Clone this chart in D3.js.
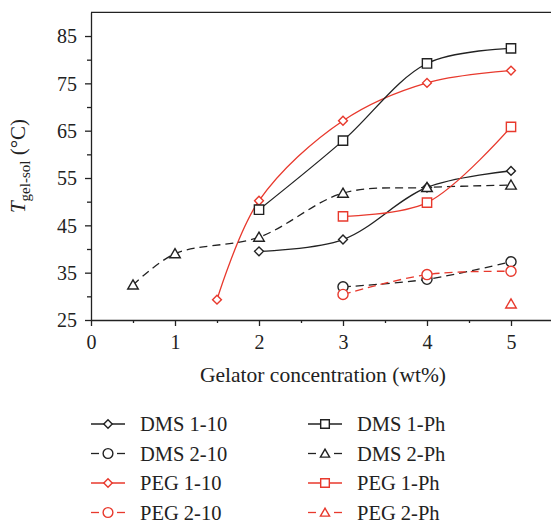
<!DOCTYPE html>
<html>
<head>
<meta charset="utf-8">
<script src="https://cdn.jsdelivr.net/npm/d3@7"></script>
<style>
  body { margin: 0; background: #fff; }
  svg { display: block; }
  svg text { font-family: "Liberation Serif", "Times New Roman", serif; }
  .tick text { font-size: 20px; fill: #222; }
</style>
</head>
<body>
<div id="chart"></div>
<script>
(function () {
  "use strict";

  // x values (wt%) and T gel-sol (°C) per series
  var dms110X = [2, 3, 4, 5],           dms110Y = [39.5, 42, 53, 56.5];
  var dms210X = [3, 4, 5],              dms210Y = [32, 33.6, 37.3];
  var peg110X = [1.5, 2, 3, 4, 5],      peg110Y = [29.3, 50.2, 67.1, 75.1, 77.7];
  var peg210X = [3, 4, 5],              peg210Y = [30.4, 34.6, 35.3];
  var dms1phX = [2, 3, 4, 5],           dms1phY = [48.3, 62.9, 79.2, 82.4];
  var dms2phX = [0.5, 1, 2, 3, 4, 5],   dms2phY = [32.4, 39, 42.5, 51.8, 53, 53.5];
  var peg1phX = [3, 4, 5],              peg1phY = [46.9, 49.8, 65.8];
  var peg2phX = [5],                    peg2phY = [28.4];

  var xTicks = [0, 1, 2, 3, 4, 5],
      xMinor = [0.5, 1.5, 2.5, 3.5, 4.5],
      yTicks = [25, 35, 45, 55, 65, 75, 85],
      yMinor = [30, 40, 50, 60, 70, 80];

  var black = "#222",
      red = "#e8392d";

  var series = [
    {name: "DMS 1-10", xs: dms110X, ys: dms110Y, color: black, dash: null, sym: "diamond"},
    {name: "DMS 2-10", xs: dms210X, ys: dms210Y, color: black, dash: "8,5", sym: "circle"},
    {name: "PEG 1-10", xs: peg110X, ys: peg110Y, color: red, dash: null, sym: "diamond"},
    {name: "PEG 2-10", xs: peg210X, ys: peg210Y, color: red, dash: "8,5", sym: "circle"},
    {name: "DMS 1-Ph", xs: dms1phX, ys: dms1phY, color: black, dash: null, sym: "square"},
    {name: "DMS 2-Ph", xs: dms2phX, ys: dms2phY, color: black, dash: "8,5", sym: "triangle"},
    {name: "PEG 1-Ph", xs: peg1phX, ys: peg1phY, color: red, dash: null, sym: "square"},
    {name: "PEG 2-Ph", xs: peg2phX, ys: peg2phY, color: red, dash: "8,5", sym: "triangle"}
  ];

  var width = 551, height = 522;
  var left = 91, bottom = 320;

  var svg = d3.select("#chart").append("svg")
    .attr("width", width)
    .attr("height", height);

  var x = d3.scaleLinear().domain([0, 5.5]).range([left, left + 462]);
  var y = d3.scaleLinear().domain([25, 90]).range([bottom, bottom - 65 * 4.733]);

  // symbols (white filled so lines stop at the edge)
  var symbols = {
    diamond: d3.symbol().type(d3.symbolDiamond2).size(50),
    circle: d3.symbol().type(d3.symbolCircle).size(80),
    square: d3.symbol().type(d3.symbolSquare2).size(110),
    triangle: d3.symbol().type(d3.symbolTriangle2).size(80)
  };

  // axes
  var xAxis = svg.append("g")
    .attr("transform", "translate(0," + bottom + ")")
    .call(d3.axisBottom(x).tickValues(xTicks).tickFormat(d3.format("d"))
      .tickSize(6).tickPadding(9).tickSizeOuter(0));
  svg.append("g")
    .attr("transform", "translate(0," + bottom + ")")
    .call(d3.axisBottom(x).tickValues(xMinor).tickFormat("").tickSize(3).tickSizeOuter(0))
    .select(".domain").remove();

  var yAxis = svg.append("g")
    .attr("transform", "translate(" + left + ",0)")
    .call(d3.axisLeft(y).tickValues(yTicks).tickSize(6).tickPadding(8).tickSizeOuter(0));
  svg.append("g")
    .attr("transform", "translate(" + left + ",0)")
    .call(d3.axisLeft(y).tickValues(yMinor).tickFormat("").tickSize(4).tickSizeOuter(0))
    .select(".domain").remove();

  svg.selectAll(".domain, .tick line").attr("stroke", black).attr("stroke-width", 1.3);
  yAxis.selectAll("text").attr("dy", "0.34em");

  // top frame line
  svg.append("line")
    .attr("x1", left).attr("x2", width)
    .attr("y1", y(90)).attr("y2", y(90))
    .attr("stroke", black).attr("stroke-width", 1.3);

  // axis titles
  svg.append("text")
    .attr("x", 323).attr("y", 382)
    .attr("text-anchor", "middle")
    .attr("font-size", 21.5).attr("fill", black)
    .text("Gelator concentration (wt%)");

  var yl = svg.append("text")
    .attr("transform", "translate(25,166) rotate(-90)")
    .attr("text-anchor", "middle")
    .attr("font-size", 21).attr("fill", black);
  yl.append("tspan").attr("font-style", "italic").text("T");
  yl.append("tspan").attr("font-size", 15).attr("dy", 5).text("gel-sol");
  yl.append("tspan").attr("dy", -5).text(" (°C)");

  // lines
  var line = d3.line()
    .x(function (d) { return x(d[0]); })
    .y(function (d) { return y(d[1]); })
    .curve(d3.curveCatmullRom.alpha(0.5));

  series.forEach(function (s) {
    var pts = s.xs.map(function (v, i) { return [v, s.ys[i]]; });
    if (pts.length > 1) {
      svg.append("path")
        .datum(pts)
        .attr("d", line)
        .attr("fill", "none")
        .attr("stroke", s.color)
        .attr("stroke-width", 1.3)
        .attr("stroke-dasharray", s.dash);
    }
  });

  series.forEach(function (s) {
    var pts = s.xs.map(function (v, i) { return [v, s.ys[i]]; });
    svg.append("g").selectAll("path")
      .data(pts)
      .enter().append("path")
        .attr("d", symbols[s.sym])
        .attr("transform", function (d) {
          var dy = s.sym === "triangle" ? 1 : 0;
          return "translate(" + x(d[0]) + "," + (y(d[1]) + dy) + ")";
        })
        .attr("fill", "#fff")
        .attr("stroke", s.color)
        .attr("stroke-width", 1.4);
  });

  // legend
  var legSym = {
    diamond: d3.symbol().type(d3.symbolDiamond2).size(45),
    circle: d3.symbol().type(d3.symbolCircle).size(75),
    square: d3.symbol().type(d3.symbolSquare2).size(95),
    triangle: d3.symbol().type(d3.symbolTriangle2).size(60)
  };

  series.forEach(function (s, i) {
    var col = i < 4 ? 0 : 1,
        row = i % 4;
    var lx = col === 0 ? 91 : 308,
        ly = 424 + row * 29.5;
    var g = svg.append("g").attr("transform", "translate(" + lx + "," + ly + ")");
    if (s.dash) {
      g.append("line").attr("x1", 0).attr("x2", 8).attr("y1", 0).attr("y2", 0)
        .attr("stroke", s.color).attr("stroke-width", 1.3);
      g.append("line").attr("x1", 26).attr("x2", 34).attr("y1", 0).attr("y2", 0)
        .attr("stroke", s.color).attr("stroke-width", 1.3);
    } else {
      g.append("line").attr("x1", 0).attr("x2", 34).attr("y1", 0).attr("y2", 0)
        .attr("stroke", s.color).attr("stroke-width", 1.3);
    }
    g.append("path")
      .attr("d", legSym[s.sym])
      .attr("transform", "translate(17," + (s.sym === "triangle" ? 1 : 0) + ")")
      .attr("fill", "#fff")
      .attr("stroke", s.color)
      .attr("stroke-width", 1.4);
    g.append("text")
      .attr("x", 49)
      .attr("y", 7)
      .attr("font-size", 20.5)
      .attr("fill", black)
      .text(s.name);
  });
})();
</script>
</body>
</html>
